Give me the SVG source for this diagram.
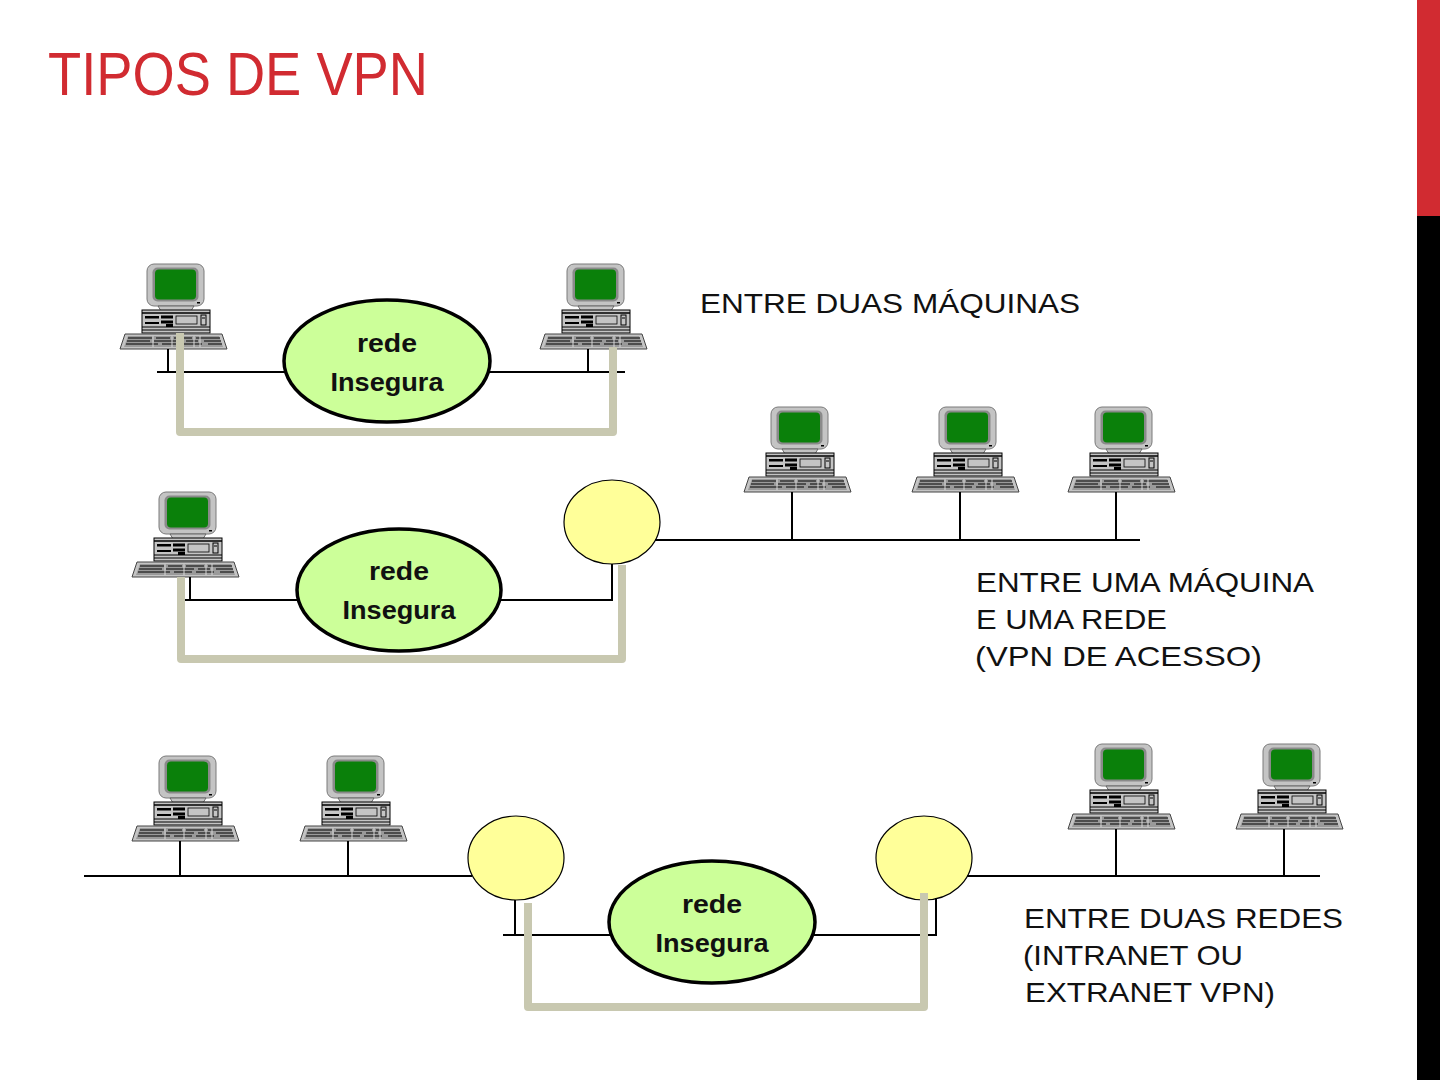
<svg xmlns="http://www.w3.org/2000/svg" xmlns:xlink="http://www.w3.org/1999/xlink" width="1440" height="1080" viewBox="0 0 1440 1080">
<style>
.bus{stroke:#000;stroke-width:2;fill:none}
.tunnel{stroke:#c8c8b0;stroke-width:8;fill:none;stroke-linejoin:round}
.net{fill:#ccff99;stroke:#000;stroke-width:3.5}
.router{fill:#ffff99;stroke:#000;stroke-width:1.2}
.netlbl{font-family:"Liberation Sans",Arial,sans-serif;font-weight:bold;font-size:26px;fill:#111;text-anchor:middle}
.lbl{font-family:"Liberation Sans",Arial,sans-serif;font-size:28px;fill:#111}
.title{font-family:"Liberation Sans",Arial,sans-serif;font-size:62px;fill:#d12b31}
</style>
<defs>
<g id="pc">
<rect x="27" y="0" width="57" height="42" rx="7" fill="#c4c4c4" stroke="#7a7a7a" stroke-width="1"/>
<rect x="32.5" y="3.5" width="46" height="34" rx="5" fill="#8a8a8a"/>
<rect x="35" y="5.5" width="41" height="30" rx="4" fill="#0a800a"/>
<rect x="77" y="38" width="3" height="1.5" fill="#000"/>
<path d="M38,42 H74 L71,47 H41 Z" fill="#c4c4c4" stroke="#555" stroke-width="0.8"/>
<rect x="22" y="46" width="68" height="23" fill="#c4c4c4" stroke="#000" stroke-width="1"/>
<line x1="22" y1="49" x2="90" y2="49" stroke="#000" stroke-width="1.5"/>
<rect x="25" y="52" width="14" height="2.5" fill="#000"/>
<rect x="25" y="58" width="14" height="2" fill="#000"/>
<rect x="41" y="51.5" width="12" height="3" fill="#000"/>
<rect x="41" y="56.5" width="12" height="3" fill="#000"/>
<rect x="46" y="60" width="7" height="3" fill="#000"/>
<rect x="56" y="52" width="21" height="8" fill="#c4c4c4" stroke="#000" stroke-width="0.8"/>
<rect x="81" y="51" width="5" height="10" fill="#c4c4c4" stroke="#000" stroke-width="1"/>
<line x1="82" y1="54" x2="85" y2="54" stroke="#000"/>
<line x1="22" y1="63" x2="90" y2="63" stroke="#000" stroke-width="1"/>
<line x1="22" y1="66" x2="90" y2="66" stroke="#000" stroke-width="1"/>
<path d="M5,70 H102 L107,85 H0 Z" fill="#c4c4c4" stroke="#444" stroke-width="1"/>
<path d="M8,72 H99 L103,83 H4 Z" fill="#9a9a9a"/>
<g stroke="#000" stroke-width="1.2" fill="none">
<path d="M8,74 H32 M36,74 H50 M54,74 H72 M76,74 H100"/>
<path d="M7,77 H30 M34,77 H62 M66,77 H78 M84,77 H101"/>
<path d="M6,80 H38 M42,80 H60 M64,80 H82 M88,80 H102"/>
</g>
<g stroke="#d8d8d8" stroke-width="1">
<path d="M33,72 V83 M52,72 V83 M74,72 V83 M80,72 V83"/>
</g>
</g>
</defs>

<rect x="0" y="0" width="1440" height="1080" fill="#ffffff"/>
<rect x="1417" y="0" width="23" height="216" fill="#d12b31"/>
<rect x="1417" y="216" width="23" height="864" fill="#000000"/>

<text class="title" x="48" y="95" textLength="380" lengthAdjust="spacingAndGlyphs">TIPOS DE VPN</text>

<g id="nodes">
<g id="pc-a"><use xlink:href="#pc" x="120" y="264"/></g>
<g id="pc-b"><use xlink:href="#pc" x="540" y="264"/></g>
<g id="pc-c"><use xlink:href="#pc" x="132" y="492"/></g>
<g id="pc-d"><use xlink:href="#pc" x="744" y="407"/></g>
<g id="pc-e"><use xlink:href="#pc" x="912" y="407"/></g>
<g id="pc-f"><use xlink:href="#pc" x="1068" y="407"/></g>
<g id="pc-g"><use xlink:href="#pc" x="132" y="756"/></g>
<g id="pc-h"><use xlink:href="#pc" x="300" y="756"/></g>
<g id="pc-i"><use xlink:href="#pc" x="1068" y="744"/></g>
<g id="pc-j"><use xlink:href="#pc" x="1236" y="744"/></g>

<g id="net-1">
<ellipse class="net" cx="387" cy="361" rx="103" ry="61"/>
<text class="netlbl" x="387" y="352" textLength="60" lengthAdjust="spacingAndGlyphs">rede</text>
<text class="netlbl" x="387" y="391" textLength="113" lengthAdjust="spacingAndGlyphs">Insegura</text>
</g>
<g id="net-2">
<ellipse class="net" cx="399" cy="590" rx="102" ry="61"/>
<text class="netlbl" x="399" y="580" textLength="60" lengthAdjust="spacingAndGlyphs">rede</text>
<text class="netlbl" x="399" y="619" textLength="113" lengthAdjust="spacingAndGlyphs">Insegura</text>
</g>
<g id="net-3">
<ellipse class="net" cx="712" cy="922" rx="103" ry="61"/>
<text class="netlbl" x="712" y="913" textLength="60" lengthAdjust="spacingAndGlyphs">rede</text>
<text class="netlbl" x="712" y="952" textLength="113" lengthAdjust="spacingAndGlyphs">Insegura</text>
</g>

<g id="router-1"><ellipse class="router" cx="612" cy="522" rx="48" ry="42"/></g>
<g id="router-2"><ellipse class="router" cx="516" cy="858" rx="48" ry="42"/></g>
<g id="router-3"><ellipse class="router" cx="924" cy="858" rx="48" ry="42"/></g>
</g>

<g id="connectors">
<path class="bus" d="M157,372 H285 M489,372 H625 M168,349 V372 M588,349 V372"/>
<path class="bus" d="M183,600 H297 M501,600 H612 V564 M190,577 V600"/>
<path class="bus" d="M655,540 H1140 M792,492 V540 M960,492 V540 M1116,492 V540"/>
<path class="bus" d="M84,876 H472 M180,841 V876 M348,841 V876"/>
<path class="bus" d="M967,876 H1320 M1116,829 V876 M1284,829 V876"/>
<path class="bus" d="M515,900 V935 M503,935 H611 M813,935 H936 V898"/>
<path class="tunnel" d="M180,333 V432 H613 V347"/>
<path class="tunnel" d="M181,577 V659 H622 V565"/>
<path class="tunnel" d="M528,903 V1007 H924 V893"/>
</g>

<g id="labels">
<text class="lbl" x="700" y="313" textLength="380" lengthAdjust="spacingAndGlyphs">ENTRE DUAS MÁQUINAS</text>
<text class="lbl" x="976" y="592" textLength="338" lengthAdjust="spacingAndGlyphs">ENTRE UMA MÁQUINA</text>
<text class="lbl" x="976" y="629" textLength="191" lengthAdjust="spacingAndGlyphs">E UMA REDE</text>
<text class="lbl" x="975" y="666" textLength="287" lengthAdjust="spacingAndGlyphs">(VPN DE ACESSO)</text>
<text class="lbl" x="1024" y="928" textLength="319" lengthAdjust="spacingAndGlyphs">ENTRE DUAS REDES</text>
<text class="lbl" x="1023" y="965" textLength="220" lengthAdjust="spacingAndGlyphs">(INTRANET OU</text>
<text class="lbl" x="1025" y="1002" textLength="250" lengthAdjust="spacingAndGlyphs">EXTRANET VPN)</text>
</g>
</svg>
